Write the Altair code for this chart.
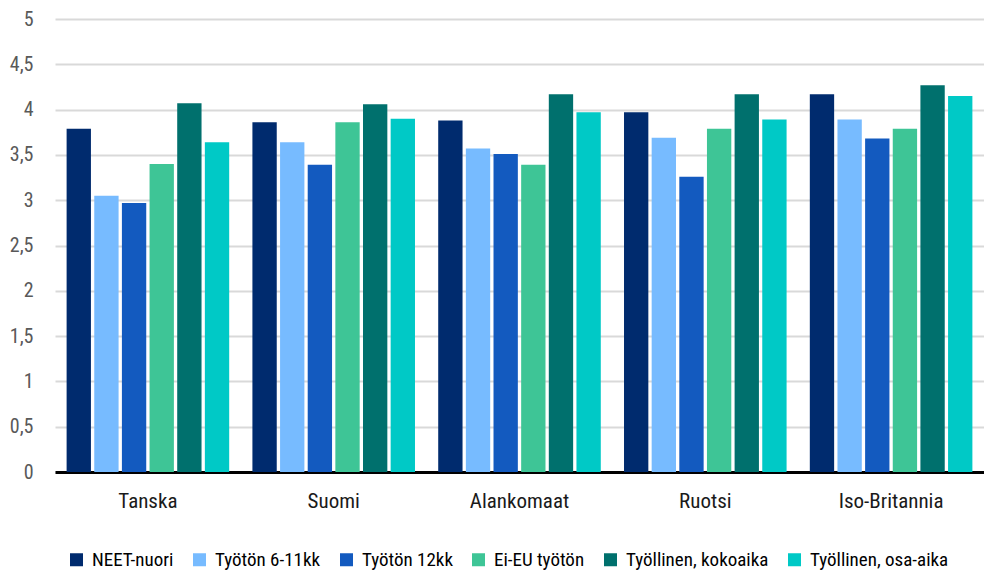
import altair as alt
import pandas as pd

# Countries on the x axis
countries = ["Tanska", "Suomi", "Alankomaat", "Ruotsi", "Iso-Britannia"]

# Series (legend order) and their colours
series = [
    "NEET-nuori",
    "Työtön 6-11kk",
    "Työtön 12kk",
    "Ei-EU työtön",
    "Työllinen, kokoaika",
    "Työllinen, osa-aika",
]
colors = ["#002b6e", "#77bbff", "#135abf", "#3ec596", "#00706d", "#00c9c6"]

# Values per series, one entry per country
neet = [3.79, 3.86, 3.88, 3.97, 4.17]
tyoton_6_11 = [3.05, 3.64, 3.57, 3.69, 3.89]
tyoton_12 = [2.97, 3.39, 3.51, 3.26, 3.68]
ei_eu = [3.40, 3.86, 3.39, 3.79, 3.79]
kokoaika = [4.07, 4.06, 4.17, 4.17, 4.27]
osa_aika = [3.64, 3.90, 3.97, 3.89, 4.15]

# Y axis ticks
y_ticks = [0, 0.5, 1, 1.5, 2, 2.5, 3, 3.5, 4, 4.5, 5]

values_by_series = [neet, tyoton_6_11, tyoton_12, ei_eu, kokoaika, osa_aika]
rows = []
for name, vals in zip(series, values_by_series):
    for country, v in zip(countries, vals):
        rows.append({"maa": country, "ryhma": name, "arvo": v})
df = pd.DataFrame(rows)

FONT = "Roboto Condensed, DejaVu Sans Condensed, Liberation Sans Narrow, Roboto, sans-serif"

chart = (
    alt.Chart(df)
    .mark_bar()
    .encode(
        x=alt.X(
            "maa:N",
            sort=countries,
            title=None,
            scale=alt.Scale(paddingInner=0.125, paddingOuter=0.0625),
            axis=alt.Axis(
                labelAngle=0,
                labelFont=FONT,
                labelFontSize=21,
                labelColor="#1a1a1a",
                labelPadding=18,
                ticks=False,
                domainColor="#000000",
                domainWidth=3,
                grid=False,
            ),
        ),
        xOffset=alt.XOffset(
            "ryhma:N",
            sort=series,
            scale=alt.Scale(paddingInner=0.12, paddingOuter=0),
        ),
        y=alt.Y(
            "arvo:Q",
            title=None,
            scale=alt.Scale(domain=[0, 5], nice=False),
            axis=alt.Axis(
                values=y_ticks,
                labelExpr="replace(toString(datum.value), '.', ',')",
                labelFont=FONT,
                labelFontSize=20,
                labelColor="#595959",
                labelPadding=22,
                ticks=False,
                domain=False,
                gridColor="#d9d9d9",
                gridWidth=2,
            ),
        ),
        color=alt.Color(
            "ryhma:N",
            sort=series,
            scale=alt.Scale(domain=series, range=colors),
            legend=alt.Legend(
                title=None,
                orient="none",
                direction="horizontal",
                legendX=12,
                legendY=531,
                padding=0,
                symbolType="square",
                symbolSize=169,
                symbolStrokeWidth=0,
                labelFont=FONT,
                labelFontSize=19,
                labelColor="#000000",
                labelOffset=6,
                labelLimit=400,
                columnPadding=16,
            ),
        ),
    )
    .properties(
        width=929,
        height=453,
        autosize=alt.AutoSizeParams(type="none"),
        padding={"left": 55, "top": 19, "right": 0, "bottom": 99},
    )
    .configure(background="#ffffff")
    .configure_view(stroke=None, strokeWidth=0)
)

chart.save("out.html", embed_options={"renderer": "svg", "actions": False})
